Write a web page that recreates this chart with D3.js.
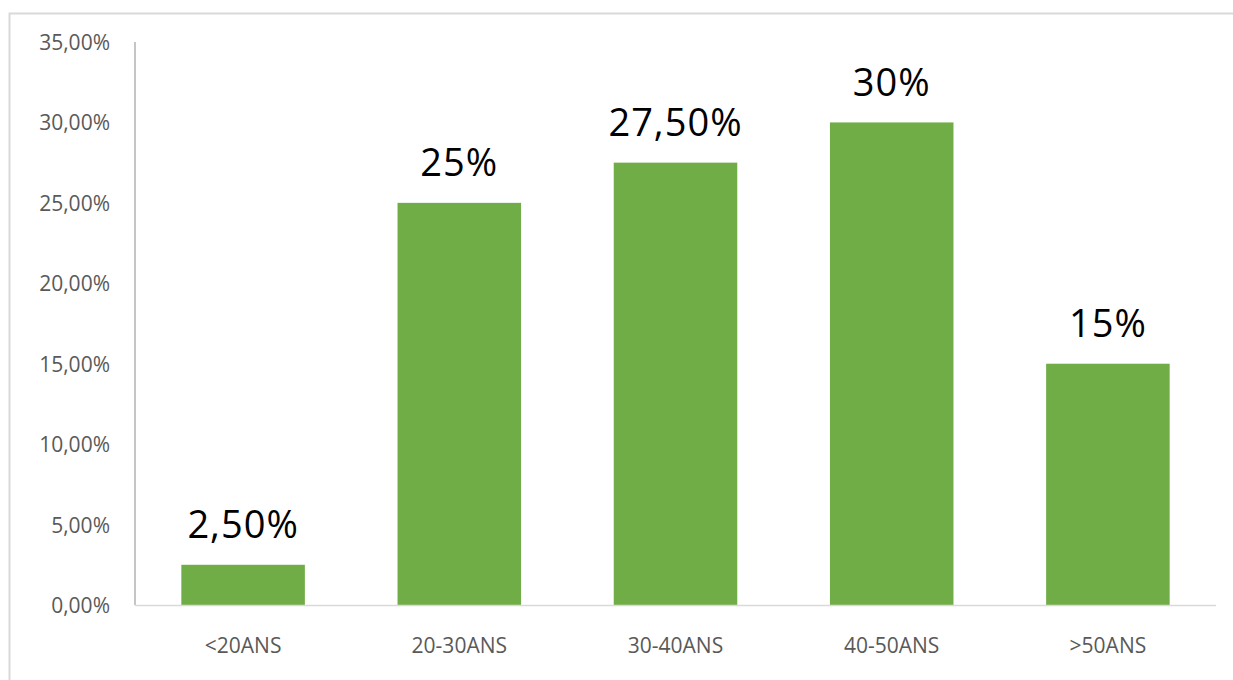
<!DOCTYPE html>
<html>
<head>
<meta charset="utf-8">
<script src="https://cdn.jsdelivr.net/npm/d3@7"></script>
<style>
  html, body { margin: 0; padding: 0; background: #fff; }
  svg { display: block; }
  text { font-family: "Open Sans", "Noto Sans", sans-serif; }
</style>
</head>
<body>
<svg id="chart" width="1233" height="680"></svg>
<script>
// Age groups and their share
const categories = ["<20ANS", "20-30ANS", "30-40ANS", "40-50ANS", ">50ANS"];
const values = [2.5, 25, 27.5, 30, 15];
const valueLabels = ["2,50%", "25%", "27,50%", "30%", "15%"];
const yTicks = [0, 5, 10, 15, 20, 25, 30, 35];

const svg = d3.select("#chart");
const plot = { left: 135, right: 1216, top: 42, bottom: 605 };

// Outer chart frame (extends past the right and bottom edges)
svg.append("rect")
  .attr("x", 9.5).attr("y", 13.5)
  .attr("width", 1240).attr("height", 700)
  .attr("fill", "none")
  .attr("stroke", "#d9d9d9")
  .attr("stroke-width", 2);

const x = d3.scaleBand()
  .domain(categories)
  .range([plot.left, plot.right])
  .paddingInner(0.4286)
  .paddingOuter(0.2143);

const y = d3.scaleLinear()
  .domain([0, 35])
  .range([plot.bottom, plot.top]);

// Y axis: labels only, with a gray vertical line
const yAxis = svg.append("g")
  .attr("transform", `translate(${plot.left},0)`)
  .call(d3.axisLeft(y)
    .tickValues(yTicks)
    .tickSize(0)
    .tickPadding(25)
    .tickFormat(d => d3.format(".2f")(d).replace(".", ",") + "%"));
yAxis.select(".domain").remove();
yAxis.selectAll("text")
  .attr("fill", "#595959")
  .attr("font-size", "21px")
  .attr("dy", "0.36em");

svg.append("line")
  .attr("x1", plot.left).attr("x2", plot.left)
  .attr("y1", plot.top).attr("y2", plot.bottom)
  .attr("stroke", "#a6a6a6")
  .attr("stroke-width", 1.3);

// Bars
svg.append("g").selectAll("rect")
  .data(values)
  .join("rect")
  .attr("x", (d, i) => x(categories[i]))
  .attr("y", d => y(d))
  .attr("width", x.bandwidth())
  .attr("height", d => y(0) - y(d))
  .attr("fill", "#70ad47");

// X axis baseline
svg.append("line")
  .attr("x1", plot.left).attr("x2", plot.right)
  .attr("y1", plot.bottom + 0.5).attr("y2", plot.bottom + 0.5)
  .attr("stroke", "#d9d9d9")
  .attr("stroke-width", 1.5);

// Category labels
const xAxis = svg.append("g")
  .attr("transform", `translate(0,${plot.bottom})`)
  .call(d3.axisBottom(x).tickSize(0).tickPadding(0));
xAxis.select(".domain").remove();
xAxis.selectAll("text")
  .attr("fill", "#595959")
  .attr("font-size", "21px")
  .attr("y", 48)
  .attr("dy", 0);

// Value labels above bars
svg.append("g").selectAll("text")
  .data(values)
  .join("text")
  .attr("x", (d, i) => x(categories[i]) + x.bandwidth() / 2)
  .attr("y", d => y(d) - 26.5)
  .attr("text-anchor", "middle")
  .attr("font-size", "38px")
  .attr("letter-spacing", "1px")
  .attr("fill", "#000")
  .text((d, i) => valueLabels[i]);
</script>
</body>
</html>
